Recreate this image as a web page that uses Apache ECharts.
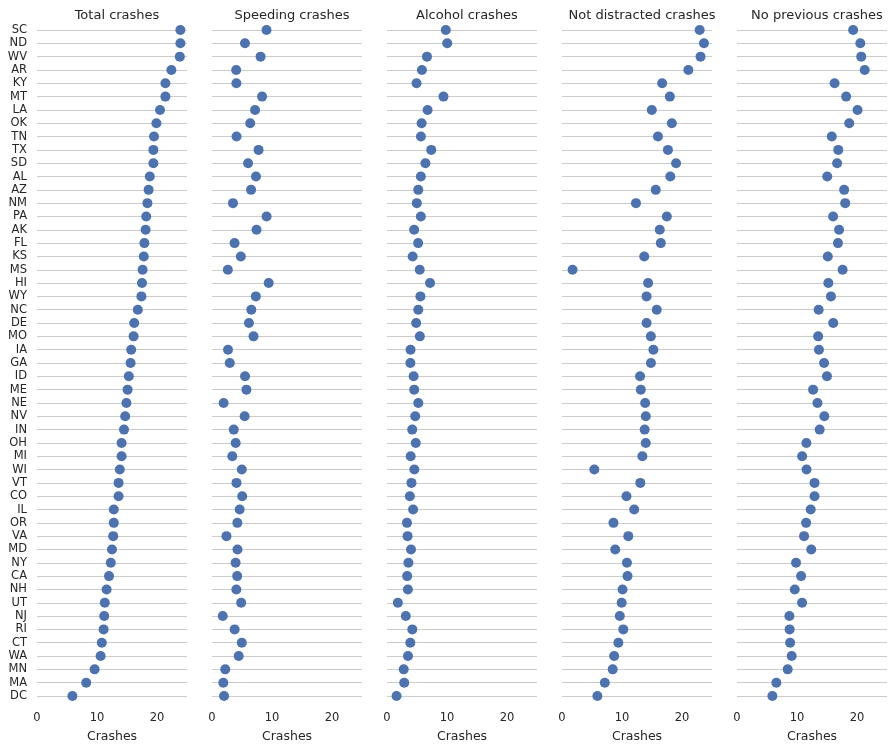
<!DOCTYPE html>
<html><head><meta charset="utf-8">
<script src="https://cdn.jsdelivr.net/npm/echarts@6/dist/echarts.min.js"></script>
<style>html,body{margin:0;padding:0;background:#fff}#c{width:895px;height:747px}</style>
</head><body><div id="c"></div>
<script>
const states = ["SC","ND","WV","AR","KY","MT","LA","OK","TN","TX","SD","AL","AZ","NM","PA","AK","FL","KS","MS","HI","WY","NC","DE","MO","IA","GA","ID","ME","NE","NV","IN","OH","MI","WI","VT","CO","IL","OR","VA","MD","NY","CA","NH","UT","NJ","RI","CT","WA","MN","MA","DC"];
const total = [23.9,23.9,23.8,22.4,21.4,21.4,20.5,19.9,19.5,19.4,19.4,18.8,18.6,18.4,18.2,18.1,17.9,17.8,17.6,17.5,17.4,16.8,16.2,16.1,15.7,15.6,15.3,15.1,14.9,14.7,14.5,14.1,14.1,13.8,13.6,13.6,12.8,12.8,12.7,12.5,12.3,12.0,11.6,11.3,11.2,11.1,10.8,10.6,9.6,8.2,5.9];
const speeding = [9.082,5.497,8.092,4.032,4.066,8.346,7.175,6.368,4.095,7.760,6.014,7.332,6.510,3.496,9.100,7.421,3.759,4.806,2.640,9.450,7.308,6.552,6.156,6.923,2.669,2.964,5.508,5.738,1.937,5.439,3.625,3.948,3.384,4.968,4.080,5.032,4.608,4.224,2.413,4.250,3.936,4.200,4.060,4.859,1.792,3.774,4.968,4.452,2.208,1.886,2.006];
const alcohol = [9.799,10.038,6.664,5.824,4.922,9.416,6.765,5.771,5.655,7.372,6.402,5.640,5.208,4.968,5.642,4.525,5.191,4.272,5.456,7.175,5.568,5.208,4.860,5.474,3.925,3.900,4.437,4.530,5.215,4.704,4.205,4.794,3.948,4.554,4.080,3.808,4.352,3.328,3.429,4.000,3.567,3.360,3.480,1.808,3.136,4.218,3.888,3.498,2.784,2.870,1.593];
const notDistracted = [22.944,23.661,23.086,21.056,16.692,17.976,14.965,18.308,15.990,17.654,19.012,18.048,15.624,12.328,17.472,16.290,16.468,13.706,1.760,14.350,14.094,15.792,14.094,14.812,15.229,14.820,13.005,13.137,13.857,13.965,13.775,13.959,13.395,5.382,13.056,10.744,12.032,8.576,11.049,8.875,10.824,10.920,10.092,9.944,9.632,10.212,9.396,8.692,8.448,7.134,5.900];
const noPrevious = [19.359,20.554,20.706,21.280,16.264,18.190,20.090,18.706,15.795,16.878,16.684,15.040,17.856,18.032,16.016,17.014,16.826,15.130,17.600,15.225,15.660,13.608,16.038,13.524,13.659,14.508,14.994,12.684,13.410,14.553,13.775,11.562,10.857,11.592,12.920,12.920,12.288,11.520,11.176,12.375,9.840,10.680,9.628,10.848,8.736,8.769,8.856,9.116,8.448,6.560,5.900];
const titles = ["Total crashes","Speeding crashes","Alcohol crashes","Not distracted crashes","No previous crashes"];
const xTicks = [0,10,20];
const panels = [total, speeding, alcohol, notDistracted, noPrevious];

const font = "DejaVu Sans";
const txt = "#262626";
const grids = [], xAxes = [], yAxes = [], series = [], title = [];
panels.forEach((vals, i) => {
  const left = 37 + 175 * i;
  grids.push({left: left, top: 30, width: 150, height: 666, containLabel: false, outerBoundsMode: 'none'});
  title.push({text: titles[i], left: left + 75, top: 4, textAlign: 'center',
    textStyle: {fontFamily: font, fontSize: 13, fontWeight: 'normal', color: txt}});
  xAxes.push({gridIndex: i, type: 'value', min: 0, max: 25, interval: 10,
    axisLine: {show: false}, axisTick: {show: false}, splitLine: {show: false},
    axisLabel: {fontFamily: font, fontSize: 11.5, color: txt, margin: 16,
      formatter: v => xTicks.includes(v) ? String(v) : ''},
    name: 'Crashes', nameLocation: 'middle', nameGap: 34,
    nameTextStyle: {fontFamily: font, fontSize: 12.5, color: txt}});
  yAxes.push({gridIndex: i, type: 'category', data: states, inverse: true, boundaryGap: false,
    axisLine: {show: false}, axisTick: {show: false},
    splitLine: {show: true, lineStyle: {color: '#cccccc', width: 1}},
    axisLabel: {show: i === 0, fontFamily: font, fontSize: 11.5, color: txt, margin: 10, interval: 0}});
  series.push({type: 'scatter', xAxisIndex: i, yAxisIndex: i, data: vals.map((v, j) => [v, states[j]]),
    symbol: 'circle', symbolSize: 10, itemStyle: {color: '#4c72b0', opacity: 1}, z: 5});
});

const chart = echarts.init(document.getElementById('c'), null, {renderer: 'canvas'});
chart.setOption({animation: false, backgroundColor: '#fff', title, grid: grids, xAxis: xAxes, yAxis: yAxes, series});
</script></body></html>
